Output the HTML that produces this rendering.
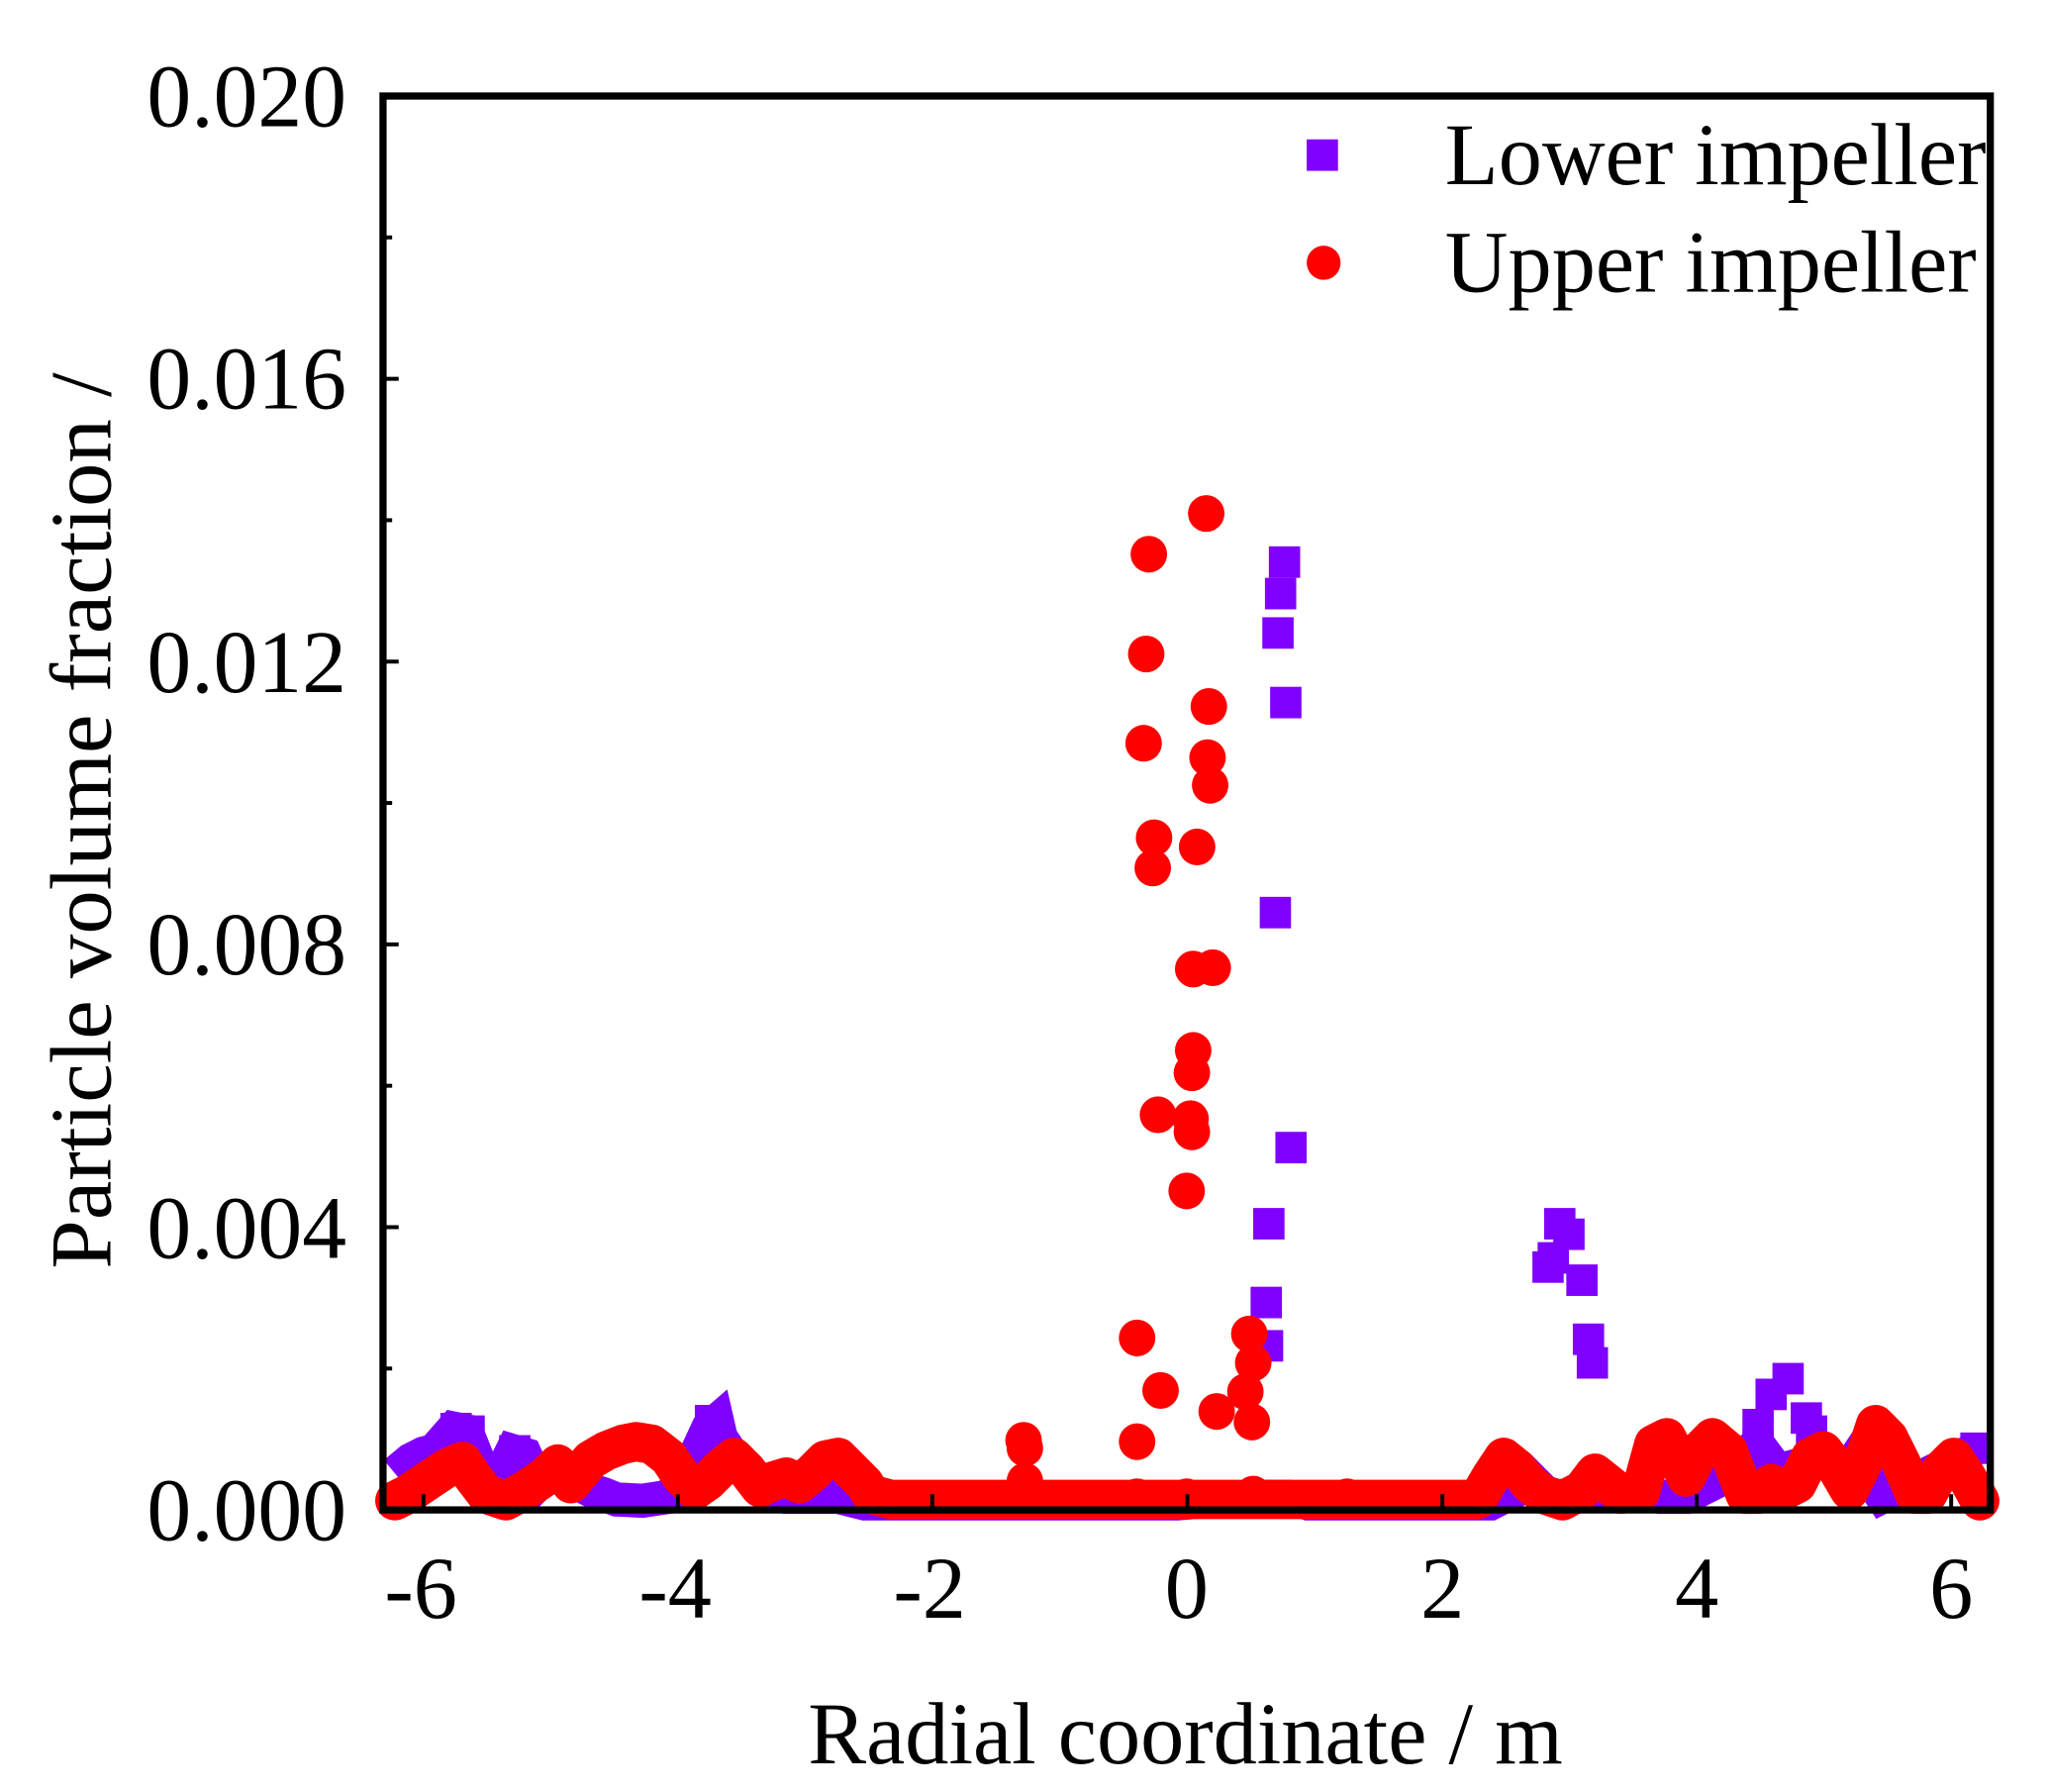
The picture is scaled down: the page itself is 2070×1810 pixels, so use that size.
<!DOCTYPE html>
<html><head><meta charset="utf-8"><style>html,body{margin:0;padding:0;background:#fff}svg{display:block}</style></head>
<body>
<svg width="2070" height="1810" xmlns="http://www.w3.org/2000/svg">
<rect width="2070" height="1810" fill="#fff"/>
<g transform="matrix(1.318 0 0 1.326 3.4 0.2)" font-family="'Liberation Serif', serif" fill="#000">
<polyline fill="none" stroke="#8000ff" stroke-width="26" stroke-linejoin="miter" points="300,1122 312,1112 322,1107 330,1105 345,1088 355,1090 365,1115 380,1125 390,1105 400,1108 410,1130 420,1120 430,1122 440,1130 450,1135 460,1138 470,1142 490,1143 510,1140 525,1120 540,1088 547,1082 550,1095 560,1110 570,1120 580,1133 600,1140 640,1140 660,1145 900,1145 960,1140 985,1140 1000,1145 1140,1145 1160,1135 1170,1125 1185,1140 1250,1135 1270,1140 1290,1140 1310,1130 1320,1125 1330,1110 1345,1100 1360,1120 1400,1110 1410,1125 1420,1110 1440,1140 1460,1130 1480,1120 1490,1115 1512,1103"/>
<g fill="#8000ff">
<rect x="970" y="416" width="24" height="24"/><rect x="967" y="440" width="24" height="24"/><rect x="965" y="470" width="24" height="24"/><rect x="971" y="523" width="24" height="24"/><rect x="963" y="683" width="24" height="24"/><rect x="975" y="862" width="24" height="24"/><rect x="958" y="920" width="24" height="24"/><rect x="956" y="980" width="24" height="24"/><rect x="957" y="1013" width="24" height="24"/><rect x="1172" y="953" width="24" height="24"/><rect x="1176" y="946" width="24" height="24"/><rect x="1181" y="920" width="24" height="24"/><rect x="1188" y="928" width="24" height="24"/><rect x="1198" y="963" width="24" height="24"/><rect x="1203" y="1008" width="24" height="24"/><rect x="1206" y="1026" width="24" height="24"/><rect x="1343" y="1050" width="24" height="24"/><rect x="1356" y="1038" width="24" height="24"/><rect x="1333" y="1073" width="24" height="24"/><rect x="1333" y="1088" width="24" height="24"/><rect x="1370" y="1068" width="24" height="24"/><rect x="1374" y="1078" width="24" height="24"/><rect x="1500" y="1091" width="24" height="24"/><rect x="1488" y="1100" width="24" height="24"/><rect x="335" y="1076" width="24" height="24"/><rect x="345" y="1078" width="24" height="24"/><rect x="530" y="1070" width="24" height="24"/><rect x="380" y="1093" width="24" height="24"/>
</g>
<polyline fill="none" stroke="#f00" stroke-width="30" stroke-linejoin="round" stroke-linecap="round" points="300,1143 310,1138 325,1128 340,1118 352,1113 360,1125 370,1138 385,1143 400,1135 415,1125 425,1115 435,1130 450,1112 462,1105 475,1100 485,1098 497,1100 510,1110 520,1125 530,1135 540,1128 550,1118 560,1110 570,1120 580,1133 590,1128 600,1125 610,1130 620,1122 630,1112 640,1110 650,1120 660,1130 665,1138 680,1142 1130,1142 1140,1125 1150,1110 1160,1118 1170,1130 1180,1138 1195,1143 1210,1135 1220,1122 1230,1130 1240,1138 1255,1136 1265,1100 1275,1095 1285,1115 1290,1125 1300,1105 1310,1095 1322,1105 1335,1138 1345,1138 1355,1130 1365,1135 1375,1130 1385,1110 1395,1105 1405,1118 1415,1135 1425,1115 1435,1085 1445,1095 1455,1115 1465,1138 1475,1138 1485,1120 1495,1110 1505,1125 1515,1143"/>
<g fill="#f00">
<circle cx="878" cy="422" r="14"/><circle cx="922" cy="391" r="14"/><circle cx="876" cy="498" r="14"/><circle cx="924" cy="538" r="14"/><circle cx="874" cy="566" r="14"/><circle cx="923" cy="577" r="14"/><circle cx="925" cy="598" r="14"/><circle cx="882" cy="638" r="14"/><circle cx="881" cy="661" r="14"/><circle cx="915" cy="645" r="14"/><circle cx="912" cy="738" r="14"/><circle cx="927" cy="737" r="14"/><circle cx="912" cy="800" r="14"/><circle cx="911" cy="817" r="14"/><circle cx="885" cy="849" r="14"/><circle cx="910" cy="852" r="14"/><circle cx="911" cy="862" r="14"/><circle cx="907" cy="907" r="14"/><circle cx="869" cy="1019" r="14"/><circle cx="955" cy="1016" r="14"/><circle cx="958" cy="1038" r="14"/><circle cx="952" cy="1060" r="14"/><circle cx="887" cy="1059" r="14"/><circle cx="869" cy="1098" r="14"/><circle cx="930" cy="1075" r="14"/><circle cx="957" cy="1083" r="14"/><circle cx="782" cy="1097" r="14"/><circle cx="783" cy="1103" r="14"/><circle cx="783" cy="1128" r="14"/><circle cx="869" cy="1140" r="14"/><circle cx="907" cy="1140" r="14"/><circle cx="958" cy="1138" r="14"/><circle cx="1030" cy="1140" r="14"/>
</g>
<rect x="291" y="73" width="1232" height="1077" fill="none" stroke="#000" stroke-width="5.5"/>
<g stroke="#000" stroke-width="3">
<line x1="291" y1="934.6" x2="303" y2="934.6"/><line x1="291" y1="719.2" x2="303" y2="719.2"/><line x1="291" y1="503.8" x2="303" y2="503.8"/><line x1="291" y1="288.4" x2="303" y2="288.4"/>
<line x1="291" y1="1042.3" x2="298" y2="1042.3"/><line x1="291" y1="826.9" x2="298" y2="826.9"/><line x1="291" y1="611.5" x2="298" y2="611.5"/><line x1="291" y1="396.1" x2="298" y2="396.1"/><line x1="291" y1="180.7" x2="298" y2="180.7"/>
<line x1="322" y1="1150" x2="322" y2="1138"/><line x1="517" y1="1150" x2="517" y2="1138"/><line x1="712" y1="1150" x2="712" y2="1138"/><line x1="907.5" y1="1150" x2="907.5" y2="1138"/><line x1="1103" y1="1150" x2="1103" y2="1138"/><line x1="1298" y1="1150" x2="1298" y2="1138"/><line x1="1493" y1="1150" x2="1493" y2="1138"/>
</g>
<g font-size="68" text-anchor="end">
<text x="263" y="96">0.020</text><text x="263" y="311">0.016</text><text x="263" y="527">0.012</text><text x="263" y="742">0.008</text><text x="263" y="958">0.004</text><text x="263" y="1173">0.000</text>
</g>
<g font-size="67" text-anchor="middle">
<text x="320" y="1232">-6</text><text x="515" y="1232">-4</text><text x="710" y="1232">-2</text><text x="907" y="1232">0</text><text x="1103" y="1232">2</text><text x="1298" y="1232">4</text><text x="1493" y="1232">6</text>
<text x="906" y="1343">Radial coordinate / m</text>
<text transform="translate(82,625) rotate(-90)">Particle volume fraction /</text>
</g>
<rect x="999" y="106" width="24" height="24" fill="#8000ff"/>
<circle cx="1012" cy="200" r="13" fill="#f00"/>
<text x="1105" y="140" font-size="67">Lower impeller</text>
<text x="1105" y="222" font-size="67">Upper impeller</text>
</g>
</svg>
</body></html>
